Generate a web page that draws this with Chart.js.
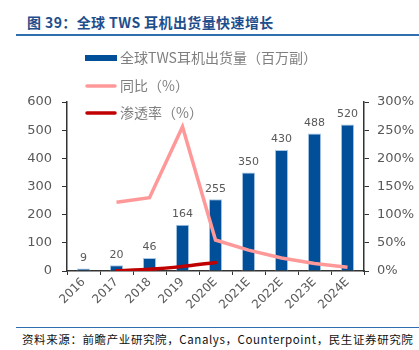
<!DOCTYPE html>
<html>
<head>
<meta charset="utf-8">
<script src="https://cdn.jsdelivr.net/npm/chart.js@4/dist/chart.umd.min.js"></script>
<style>
  html, body { margin: 0; padding: 0; background: #fff; }
  body { width: 419px; height: 350px; position: relative; overflow: hidden; font-family: "Noto Sans CJK SC", sans-serif; }
  #title { position: absolute; left: 27px; top: 12px; font-size: 14px; font-weight: bold; color: #1f4e8c; letter-spacing: 0.4px; }
  #topLine { position: absolute; left: 16px; right: 0; top: 34px; height: 2px; background: #2f6fb0; }
  #bottomLine { position: absolute; left: 16px; right: 0; top: 327px; height: 1px; background: #2f6fb0; }
  #source { position: absolute; left: 22px; top: 331px; font-size: 11.5px; color: #111; white-space: nowrap; letter-spacing: 0.6px; }
  #wrap { position: absolute; left: 0; top: 40px; width: 419px; height: 285px; }
</style>
</head>
<body>
<div id="title">图 39：全球 TWS 耳机出货量快速增长</div>
<div id="topLine"></div>
<div id="wrap"><canvas id="chart"></canvas></div>
<div id="bottomLine"></div>
<div id="source">资料来源：前瞻产业研究院，Canalys，Counterpoint，民生证券研究院</div>
<script>
'use strict';

// Chart data
const years = ['2016', '2017', '2018', '2019', '2020E', '2021E', '2022E', '2023E', '2024E'];
const shipments = [9, 20, 46, 164, 255, 350, 430, 488, 520];
const yoyGrowth = [null, 122, 130, 256, 55, 37, 23, 13.5, 6.6];
const penetration = [null, 0.5, 3, 8, 15, null, null, null, null];
const leftTicks = [0, 100, 200, 300, 400, 500, 600];
const rightTicks = [0, 50, 100, 150, 200, 250, 300];

const GRAY = '#595959';

// Value labels above bars
const barLabels = {
    id: 'barLabels',
    afterDatasetsDraw(chart) {
        const ctx = chart.ctx;
        const meta = chart.getDatasetMeta(0);
        ctx.save();
        ctx.font = '11px "DejaVu Sans", sans-serif';
        ctx.fillStyle = GRAY;
        ctx.textAlign = 'center';
        ctx.textBaseline = 'bottom';
        meta.data.forEach((bar, i) => {
            ctx.fillText(String(shipments[i]), bar.x, bar.y - 5);
        });
        ctx.restore();
    }
};

// Vertical legend in the upper left
const sideLegend = {
    id: 'sideLegend',
    afterDraw(chart) {
        const ctx = chart.ctx;
        const x0 = 85;
        const rows = [18, 46, 73];
        ctx.save();
        ctx.font = '14px "Noto Sans CJK SC", sans-serif';
        ctx.textBaseline = 'middle';
        chart.data.datasets.forEach((ds, i) => {
            const y = rows[i];
            ctx.strokeStyle = ds.legendColor;
            ctx.lineWidth = i === 0 ? 6 : 3.5;
            ctx.lineCap = i === 0 ? 'butt' : 'round';
            ctx.beginPath();
            ctx.moveTo(x0 + (i === 0 ? 0 : 2), y);
            ctx.lineTo(x0 + (i === 0 ? 32 : 30), y);
            ctx.stroke();
            ctx.fillStyle = '#7f7f7f';
            ctx.fillText(ds.label, x0 + 35, y);
        });
        ctx.restore();
    }
};

new Chart(document.getElementById('chart').getContext('2d'), {
    type: 'bar',
    data: {
        labels: years,
        datasets: [{
            type: 'bar',
            label: '全球TWS耳机出货量（百万副）',
            data: shipments,
            backgroundColor: '#004f98',
            borderColor: '#a9c6e4',
            borderWidth: 1,
            legendColor: '#004f98',
            barPercentage: 0.4,
            categoryPercentage: 1,
            yAxisID: 'y',
            order: 2
        }, {
            type: 'line',
            label: '同比（%）',
            data: yoyGrowth,
            borderColor: '#ff9999',
            legendColor: '#ff9999',
            borderWidth: 3.5,
            pointRadius: 0,
            tension: 0,
            yAxisID: 'y2',
            order: 1
        }, {
            type: 'line',
            label: '渗透率（%）',
            data: penetration,
            borderColor: '#c00000',
            legendColor: '#c00000',
            borderWidth: 3.5,
            pointRadius: 0,
            tension: 0.2,
            borderCapStyle: 'round',
            yAxisID: 'y2',
            order: 0
        }]
    },
    options: {
        responsive: true,
        maintainAspectRatio: false,
        animation: false,
        layout: { padding: { top: 62, left: 0, right: 0, bottom: 0 } },
        scales: {
            x: {
                offset: true,
                grid: { display: true, drawOnChartArea: false, offset: true, tickLength: 4, color: '#333' },
                border: { color: '#333', width: 1.5 },
                ticks: { color: GRAY, font: { size: 12, family: '"DejaVu Sans", sans-serif' }, minRotation: 45, maxRotation: 45, padding: 0 },
                afterFit(scale) { scale.height = 54; }
            },
            y: {
                position: 'left',
                min: 0,
                max: 600,
                afterBuildTicks(scale) { scale.ticks = leftTicks.map(v => ({ value: v })); },
                grid: { display: true, drawOnChartArea: false, tickLength: 5, color: '#333' },
                border: { color: '#333', width: 1.5 },
                ticks: { color: GRAY, font: { size: 13, family: '"DejaVu Sans", sans-serif' }, padding: 10 },
                afterFit(scale) { scale.width = 67; }
            },
            y2: {
                position: 'right',
                min: 0,
                max: 300,
                afterBuildTicks(scale) { scale.ticks = rightTicks.map(v => ({ value: v })); },
                grid: { display: true, drawOnChartArea: false, tickLength: 5, color: '#333' },
                border: { color: '#333', width: 1.5 },
                ticks: { color: GRAY, font: { size: 13, family: '"DejaVu Sans", sans-serif' }, padding: 8, callback: v => v + '%' },
                afterFit(scale) { scale.width = 55; }
            }
        },
        plugins: {
            legend: { display: false },
            tooltip: { enabled: false }
        }
    },
    plugins: [barLabels, sideLegend]
});
</script>
</body>
</html>
